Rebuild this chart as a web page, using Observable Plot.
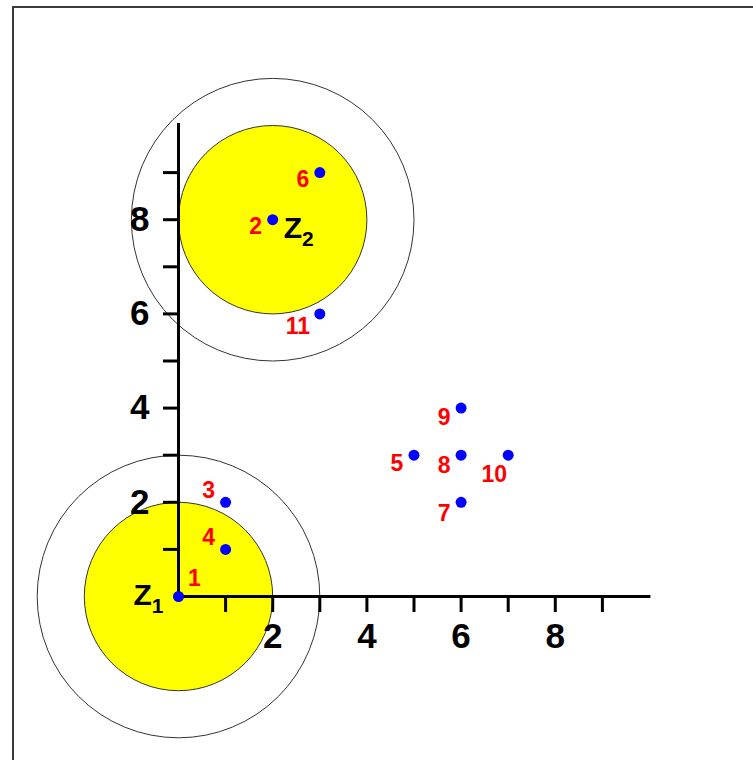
<!DOCTYPE html>
<html>
<head>
<meta charset="utf-8">
<script src="https://cdn.jsdelivr.net/npm/d3@7"></script>
<script src="https://cdn.jsdelivr.net/npm/@observablehq/plot@0.6"></script>
<style>
html, body { margin: 0; padding: 0; background: #fff; overflow: hidden; }
#wrap { position: relative; width: 753px; height: 760px; }
#border { position: absolute; left: 12px; top: 6px; width: 900px; height: 900px;
  border-left: 2px solid #3a3a3a; border-top: 2px solid #3a3a3a; pointer-events: none; }
</style>
</head>
<body>
<div id="wrap"><div id="chart"></div><div id="border"></div></div>
<script>
// ---- data ----
const pointIds = ["1", "2", "3", "4", "5", "6", "7", "8", "9", "10", "11"];
const pointX   = [0, 2, 1, 1, 5, 3, 6, 6, 6, 7, 3];
const pointY   = [0, 8, 2, 1, 3, 9, 2, 3, 4, 3, 6];

const centerNames  = ["Z", "Z"];
const centerIndex  = ["1", "2"];
const centerX      = [0, 2];
const centerY      = [0, 8];
const innerRadius  = [2, 2];
const outerRadius  = [3, 3];

const xTicks = [1, 2, 3, 4, 5, 6, 7, 8, 9];
const xTickLabels = [2, 4, 6, 8];
const yTicks = [1, 2, 3, 4, 5, 6, 7, 8, 9];
const yTickLabels = [2, 4, 6, 8];
const xDomain = [0, 10];
const yDomain = [0, 10];

// ---- label placement (pixel nudges, style only) ----
const labelOffset = {
  "1": [16, -18], "2": [-17, 7], "3": [-17, -12], "4": [-17, -12],
  "5": [-17, 8], "6": [-17, 7], "7": [-17, 11], "8": [-17, 10],
  "9": [-17, 10], "10": [-14, 19], "11": [-22, 13]
};
const centerLabelStyle = [
  {textAnchor: "end", dx: -15, dy: -1},
  {textAnchor: "start", dx: 11, dy: 9}
];

// ---- tables ----
const points = pointIds.map((id, i) => ({id, x: pointX[i], y: pointY[i]}));
const clusters = centerNames.map((n, i) => ({name: n, idx: centerIndex[i], x: centerX[i], y: centerY[i], rIn: innerRadius[i], rOut: outerRadius[i]}));

const W = 753, H = 760, mL = 178, mR = 104, mT = 125, mB = 164;
const unitPx = (W - mL - mR) / (xDomain[1] - xDomain[0]);

const font = "'Liberation Sans', Arial, sans-serif";

const marks = [
  Plot.dot(clusters, {x: "x", y: "y", r: "rOut", fill: "none", stroke: "#333", strokeWidth: 1}),
  Plot.dot(clusters, {x: "x", y: "y", r: "rIn", fill: "#ffff00", stroke: "#333", strokeWidth: 1}),
  Plot.ruleY([0], {x1: xDomain[0], x2: xDomain[1] * 1.003, stroke: "black", strokeWidth: 3}),
  Plot.ruleX([0], {y1: yDomain[0], y2: yDomain[1] * 1.004, stroke: "black", strokeWidth: 3}),
  Plot.axisX({ticks: xTicks, tickSize: 16, strokeWidth: 3, tickFormat: () => ""}),
  Plot.axisX({ticks: xTickLabels, tickSize: 0, tickPadding: 27, fontSize: 35, fontWeight: "bold", fontFamily: font}),
  Plot.axisY({ticks: yTicks, tickSize: 15, strokeWidth: 3, tickFormat: () => ""}),
  Plot.axisY({ticks: yTickLabels, tickSize: 0, tickPadding: 29, fontSize: 35, fontWeight: "bold", fontFamily: font}),
  Plot.dot(points, {x: "x", y: "y", r: 5.5, fill: "#0000ff"}),
  ...points.map(p => Plot.text([p], {
    x: "x", y: "y", text: "id", fill: "#ff0000", fontSize: 23, fontWeight: "bold",
    fontFamily: font, dx: labelOffset[p.id][0], dy: labelOffset[p.id][1]
  })),
  ...clusters.map((c, i) => Plot.text([c], {
    x: "x", y: "y", text: d => d.name + d.idx, fill: "black", fontSize: 30, fontWeight: "bold",
    fontFamily: font, className: "zlabel", ...centerLabelStyle[i]
  }))
];

const chart = Plot.plot({
  width: W, height: H,
  marginLeft: mL, marginRight: mR, marginTop: mT, marginBottom: mB,
  x: {domain: xDomain, label: null},
  y: {domain: yDomain, label: null},
  r: {type: "linear", domain: [0, 10], range: [0, 10 * unitPx]},
  style: {fontFamily: font, background: "white", overflow: "visible"},
  marks
});

// subscript for Z labels
d3.select(chart).selectAll(".zlabel text").each(function(d, i) {
  const t = d3.select(this);
  const full = t.text();
  const main = full.slice(0, 1), sub = full.slice(1);
  t.text(null);
  t.append("tspan").text(main);
  t.append("tspan").attr("font-size", 21).attr("dy", 8).text(sub);
});

document.getElementById("chart").appendChild(chart);
</script>
</body>
</html>
